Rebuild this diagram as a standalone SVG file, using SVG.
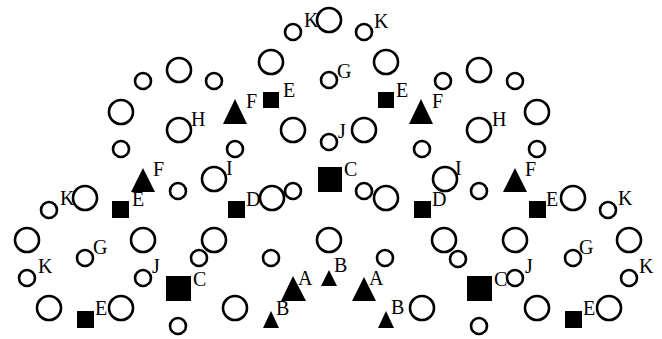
<svg xmlns="http://www.w3.org/2000/svg" width="662" height="339" viewBox="0 0 662 339">
<style>
circle{fill:none;stroke:#000;stroke-width:2.6}
.sq,.tr{fill:#000;stroke:none}
text{font-family:"Liberation Serif","Times New Roman",serif;font-size:20px;fill:#000}
</style>
<rect x="0" y="0" width="662" height="339" style="fill:#fff"/>
<g id="circles-big">
<circle cx="329" cy="20" r="12"/>
<circle cx="271" cy="62" r="12"/><circle cx="386" cy="62" r="12"/>
<circle cx="179" cy="70" r="12"/><circle cx="479" cy="70" r="12"/>
<circle cx="121" cy="112" r="12"/><circle cx="537" cy="112" r="12"/>
<circle cx="179" cy="130" r="12"/><circle cx="293" cy="130" r="12"/><circle cx="364" cy="130" r="12"/><circle cx="479" cy="130" r="12"/>
<circle cx="214" cy="179" r="12"/><circle cx="445" cy="179" r="12"/>
<circle cx="85" cy="198" r="12"/><circle cx="272" cy="198" r="12"/><circle cx="386" cy="198" r="12"/><circle cx="573" cy="198" r="12"/>
<circle cx="27" cy="240" r="12"/><circle cx="143" cy="240" r="12"/><circle cx="214" cy="240" r="12"/><circle cx="329" cy="240" r="12"/><circle cx="444" cy="240" r="12"/><circle cx="515" cy="240" r="12"/><circle cx="629" cy="240" r="12"/>
<circle cx="49" cy="308" r="12"/><circle cx="121" cy="308" r="12"/><circle cx="235" cy="308" r="12"/><circle cx="422" cy="308" r="12"/><circle cx="537" cy="308" r="12"/><circle cx="609" cy="308" r="12"/>
</g>
<g id="circles-small">
<circle cx="293" cy="32" r="8"/><circle cx="364" cy="32" r="8"/>
<circle cx="329" cy="80" r="8"/>
<circle cx="143" cy="81" r="8"/><circle cx="214" cy="81" r="8"/><circle cx="443" cy="81" r="8"/><circle cx="515" cy="81" r="8"/>
<circle cx="121" cy="149" r="8"/><circle cx="235" cy="149" r="8"/><circle cx="329" cy="142" r="8"/><circle cx="422" cy="149" r="8"/><circle cx="537" cy="149" r="8"/>
<circle cx="178" cy="191" r="8"/><circle cx="293" cy="191" r="8"/><circle cx="364" cy="191" r="8"/><circle cx="479" cy="191" r="8"/>
<circle cx="49" cy="210" r="8"/><circle cx="608" cy="210" r="8"/>
<circle cx="85" cy="258" r="8"/><circle cx="199" cy="258" r="8"/><circle cx="271" cy="258" r="8"/><circle cx="385" cy="258" r="8"/><circle cx="458" cy="259" r="8"/><circle cx="573" cy="258" r="8"/>
<circle cx="27" cy="278" r="8"/><circle cx="143" cy="278" r="8"/><circle cx="515" cy="278" r="8"/><circle cx="629" cy="278" r="8"/>
<circle cx="178" cy="326" r="8"/><circle cx="479" cy="326" r="8"/>
</g>
<g id="squares">
<rect class="sq" x="263" y="92" width="16" height="16"/><rect class="sq" x="378" y="92" width="16" height="16"/>
<rect class="sq" x="318" y="167" width="24" height="25"/>
<rect class="sq" x="112" y="201" width="17" height="17"/><rect class="sq" x="228" y="201" width="17" height="17"/><rect class="sq" x="414" y="201" width="17" height="17"/><rect class="sq" x="529" y="201" width="17" height="17"/>
<rect class="sq" x="166" y="276" width="25" height="25"/><rect class="sq" x="467" y="276" width="25" height="25"/>
<rect class="sq" x="77" y="311" width="17" height="17"/><rect class="sq" x="565" y="311" width="17" height="17"/>
</g>
<g id="triangles">
<polygon class="tr" points="235,99 247,124 223,124"/><polygon class="tr" points="421,99 433,124 409,124"/>
<polygon class="tr" points="143,168 155,192 131,192"/><polygon class="tr" points="515,168 527,192 503,192"/>
<polygon class="tr" points="293,276 306,301 281,301"/><polygon class="tr" points="364,277 376,301 352,301"/>
<polygon class="tr" points="271,311 279,328 263,328"/><polygon class="tr" points="329,270 337,286 321,286"/><polygon class="tr" points="386,311 394,328 378,328"/>
</g>
<g id="labels">
<text x="304" y="27">K</text><text x="374" y="28">K</text>
<text x="337" y="78">G</text>
<text x="283" y="97">E</text><text x="396" y="97">E</text>
<text x="246" y="108">F</text><text x="432" y="108">F</text>
<text x="191" y="126">H</text><text x="492" y="126">H</text>
<text x="338" y="138">J</text>
<text x="344" y="176">C</text>
<text x="153" y="176">F</text><text x="525" y="176">F</text>
<text x="226" y="175">I</text><text x="455" y="175">I</text>
<text x="246" y="206">D</text><text x="432" y="206">D</text>
<text x="132" y="206">E</text><text x="546" y="206">E</text>
<text x="60" y="205">K</text><text x="618" y="205">K</text>
<text x="93" y="254">G</text><text x="579" y="254">G</text>
<text x="334" y="272">B</text>
<text x="38" y="273">K</text><text x="639" y="273">K</text>
<text x="152" y="273">J</text><text x="525" y="273">J</text>
<text x="298" y="285">A</text><text x="369" y="285">A</text>
<text x="193" y="286">C</text><text x="494" y="286">C</text>
<text x="276" y="315">B</text><text x="391" y="314">B</text>
<text x="95" y="315">E</text><text x="583" y="315">E</text>
</g>
</svg>
